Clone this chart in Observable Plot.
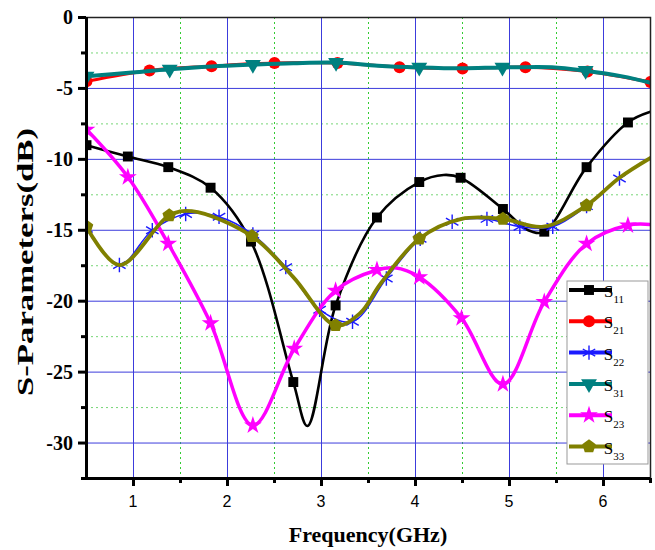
<!DOCTYPE html>
<html><head><meta charset="utf-8">
<script src="https://cdn.jsdelivr.net/npm/d3@7"></script>
<script src="https://cdn.jsdelivr.net/npm/@observablehq/plot@0.6"></script>
<style>
body{margin:0;background:#fff}
#chart{width:655px;height:550px}
.ytl{font-family:"Liberation Serif","Times New Roman",serif !important;font-weight:bold !important;font-size:20px !important}
.xtl{font-family:"Liberation Sans",Arial,sans-serif !important;font-size:16px !important}
</style></head><body><div id="chart"></div>
<script>
// ticks
const xTicks=[1,2,3,4,5,6];
const xMinor=[1.5,2.5,3.5,4.5,5.5,6.5];
const yTicks=[0,-5,-10,-15,-20,-25,-30];
const yMinor=[-2.5,-7.5,-12.5,-17.5,-22.5,-27.5,-32.5];
const seriesLabels=["11","21","22","31","23","33"];
// [frequency GHz, dB, marker?]
const s11=[[0.5,-9.0,1],[0.94,-9.8,1],[1.37,-10.55,1],[1.82,-12.0,1],[2.25,-15.8,1],[2.70,-25.7,1],[2.85,-28.8,0],[3.15,-20.3,1],[3.59,-14.1,1],[4.04,-11.6,1],[4.3,-11.1,0],[4.48,-11.3,1],[4.93,-13.5,1],[5.2,-15.0,0],[5.37,-15.1,1],[5.82,-10.55,1],[6.26,-7.4,1],[6.5,-6.65,0]];
const s21=[[0.5,-4.5,1],[1.17,-3.73,1],[1.83,-3.43,1],[2.5,-3.2,1],[3.17,-3.2,1],[3.83,-3.5,1],[4.5,-3.6,1],[5.17,-3.5,1],[5.83,-3.8,1],[6.5,-4.55,1]];
const s22=[[0.5,-14.9,1],[0.85,-17.45,1],[1.2,-15.0,1],[1.555,-13.85,1],[1.91,-14.05,1],[2.27,-15.3,1],[2.62,-17.6,1],[2.98,-20.6,1],[3.33,-21.45,1],[3.69,-18.4,1],[4.05,-15.6,1],[4.39,-14.4,1],[4.76,-14.2,1],[5.11,-14.75,1],[5.46,-14.75,1],[5.82,-13.3,1],[6.17,-11.35,1],[6.5,-9.9,0]];
const s31=[[0.5,-4.15,1],[0.95,-3.9,0],[1.385,-3.65,1],[1.83,-3.45,0],[2.27,-3.32,1],[2.7,-3.22,0],[3.155,-3.18,1],[3.6,-3.4,0],[4.04,-3.52,1],[4.5,-3.58,0],[4.925,-3.52,1],[5.45,-3.5,0],[5.81,-3.75,1],[6.2,-4.15,0],[6.5,-4.6,0]];
const s23=[[0.5,-7.9,1],[0.94,-11.25,1],[1.37,-15.95,1],[1.82,-21.55,1],[2.27,-28.75,1],[2.71,-23.35,1],[3.15,-19.25,1],[3.59,-17.8,1],[3.78,-17.65,0],[4.04,-18.3,1],[4.49,-21.2,1],[4.93,-25.85,1],[5.37,-20.05,1],[5.82,-15.95,1],[6.26,-14.65,1],[6.5,-14.6,0]];
const s33=[[0.5,-14.75,1],[0.85,-17.45,0],[1.38,-13.95,1],[1.62,-13.65,0],[2.26,-15.42,1],[2.7,-18.3,0],[3.15,-21.7,1],[3.41,-20.85,0],[3.63,-18.75,0],[4.04,-15.6,1],[4.49,-14.2,0],[4.93,-14.2,1],[5.36,-14.75,0],[5.82,-13.25,1],[6.17,-11.3,0],[6.5,-9.9,0]];

const pentagon={draw(ctx,size){const R=Math.sqrt(size/2.3776);for(let i=0;i<5;i++){const a=-Math.PI/2+i*2*Math.PI/5;const px=R*Math.cos(a),py=R*Math.sin(a);if(i)ctx.lineTo(px,py);else ctx.moveTo(px,py);}ctx.closePath();}};

const series=[
 {data:s11,color:"#000000",symbol:"square",d3s:d3.symbolSquare,r:5.6,w:2.6},
 {data:s21,color:"#ff0000",symbol:"circle",d3s:d3.symbolCircle,r:6,w:3},
 {data:s22,color:"#1a1aff",symbol:"asterisk",d3s:d3.symbolAsterisk,r:6.8,w:1.5,stroked:true},
 {data:s31,color:"#008080",symbol:"triangle",d3s:d3.symbolTriangle,r:5.9,w:4,rotate:180},
 {data:s23,color:"#ff00ff",symbol:"star",d3s:d3.symbolStar,r:5.6,w:3.5},
 {data:s33,color:"#808000",symbol:pentagon,d3s:pentagon,r:6.2,w:3.8}
];

const serif='"Liberation Serif","Times New Roman",serif';
const marks=[
 Plot.ruleX(xMinor.slice(0,5),{stroke:"#33cc33",strokeWidth:1,strokeDasharray:"2,3"}),
 Plot.ruleY(yMinor.slice(0,6),{stroke:"#55cc55",strokeWidth:1,strokeDasharray:"2,3",strokeOpacity:0.8}),
 Plot.ruleX(xTicks,{stroke:"#3c3cdc",strokeWidth:1}),
 Plot.ruleY(yTicks.slice(1),{stroke:"#3c3cdc",strokeWidth:1})
];
for(const s of series){
 marks.push(Plot.line(s.data,{x:d=>d[0],y:d=>d[1],stroke:s.color,strokeWidth:s.w,curve:"catmull-rom",clip:true}));
 const pts=s.data.filter(d=>d[2]);
 const opt={x:d=>d[0],y:d=>d[1],symbol:s.symbol,r:s.r,clip:true};
 if(s.stroked){opt.stroke=s.color;opt.strokeWidth=1.4;opt.fill="none";}else{opt.fill=s.color;opt.stroke="none";}
 if(s.rotate)opt.rotate=s.rotate;
 marks.push(Plot.dot(pts,opt));
}
marks.push(
 Plot.frame({stroke:"#222",strokeWidth:1.5}),
 Plot.ruleX([0.5],{stroke:"#000",strokeWidth:3}),
 Plot.ruleY([-32.5],{stroke:"#000",strokeWidth:3}),
 Plot.axisX(xTicks,{anchor:"bottom",tickSize:8,strokeWidth:3,tickFormat:()=>"",label:null}),
 Plot.axisX(xMinor,{anchor:"bottom",tickSize:5,strokeWidth:3,tickFormat:()=>"",label:null}),
 Plot.axisY(yTicks,{anchor:"left",tickSize:8,strokeWidth:3,tickFormat:()=>"",label:null}),
 Plot.axisY(yMinor,{anchor:"left",tickSize:5,strokeWidth:3,tickFormat:()=>"",label:null})
);

const svg=Plot.plot({
 width:655,height:550,marginLeft:86,marginRight:5,marginTop:17,marginBottom:72,
 x:{domain:[0.5,6.5],axis:null},y:{domain:[-32.5,0],axis:null},
 marks
});

const sel=d3.select(svg);
const xs=svg.scale("x"), ys=svg.scale("y");
// tick labels through the plot's own scales
const tl=sel.append("g");
yTicks.forEach(v=>{
 tl.append("text").attr("class","ytl").attr("x",73).attr("y",ys.apply(v)).attr("dy","0.35em")
  .attr("text-anchor","end").attr("fill","#000").text(String(v));
});
xTicks.forEach(v=>{
 tl.append("text").attr("class","xtl").attr("x",xs.apply(v)).attr("y",507).attr("text-anchor","middle")
  .attr("fill","#000").text(String(v));
});
// axis titles
sel.append("text").attr("x",368).attr("y",542).attr("text-anchor","middle")
 .style("font-family",serif).style("font-weight","bold").style("font-size","22px").text("Frequency(GHz)");
sel.append("text").attr("transform","translate(33,262) rotate(-90)").attr("text-anchor","middle")
 .attr("textLength",268).attr("lengthAdjust","spacingAndGlyphs")
 .style("font-family",serif).style("font-weight","bold").style("font-size","23px").text("S-Parameters(dB)");

// legend
const lg=sel.append("g");
lg.append("rect").attr("x",567).attr("y",281).attr("width",81).attr("height",183)
 .attr("fill","#fff").attr("stroke","#999").attr("stroke-width",1);
series.forEach((s,i)=>{
 const ry=290+i*31.3;
 lg.append("line").attr("x1",569).attr("x2",612).attr("y1",ry).attr("y2",ry).attr("stroke",s.color).attr("stroke-width",4);
 const p=lg.append("path").attr("d",d3.symbol(s.d3s,Math.PI*s.r*s.r)())
  .attr("transform",`translate(589,${ry})`+(s.rotate?` rotate(${s.rotate})`:""));
 if(s.stroked)p.attr("fill","none").attr("stroke",s.color).attr("stroke-width",1.4);else p.attr("fill",s.color);
 const t=lg.append("text").attr("x",614).attr("y",ry+7).style("font-family",serif).style("font-size","17px").attr("fill","#000");
 t.append("tspan").text("S");
 t.append("tspan").attr("dy",6).style("font-size","11px").text(seriesLabels[i]);
});

document.getElementById("chart").appendChild(svg);
</script></body></html>
